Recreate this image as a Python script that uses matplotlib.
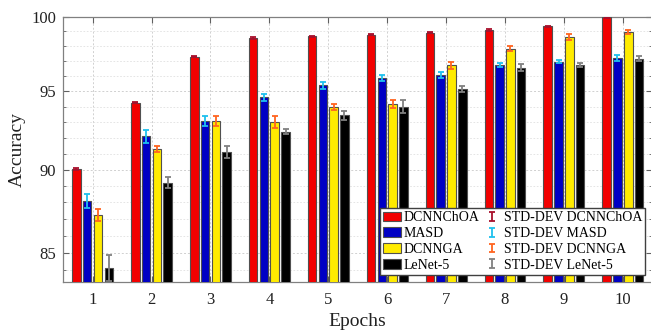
import numpy as np
import matplotlib
matplotlib.use("Agg")
from matplotlib import pyplot as plt
from matplotlib.ticker import FixedLocator, NullFormatter, FixedFormatter
from matplotlib.legend_handler import HandlerErrorbar
from matplotlib.container import ErrorbarContainer

plt.rcParams['font.family'] = ['Liberation Serif', 'DejaVu Serif']

epochs = [1, 2, 3, 4, 5, 6, 7, 8, 9, 10]
names = ["DCNNChOA", "MASD", "DCNNGA", "LeNet-5"]

dcnnchoa = [90.05, 94.25, 97.3, 98.55, 98.68, 98.78, 98.92, 99.1, 99.35, 99.96]
masd = [88.1, 92.1, 93.1, 94.6, 95.4, 95.9, 96.08, 96.74, 96.97, 97.2]
dcnnga = [87.25, 91.3, 93.1, 93.0, 93.98, 94.2, 96.72, 97.84, 98.63, 98.97]
lenet5 = [84.1, 89.2, 91.1, 92.4, 93.45, 94.0, 95.16, 96.56, 96.76, 97.17]

std_dcnnchoa = [0.04, 0.04, 0.04, 0.04, 0.04, 0.04, 0.04, 0.04, 0.04, 0.04]
std_masd = [0.43, 0.4, 0.32, 0.22, 0.22, 0.2, 0.19, 0.15, 0.13, 0.18]
std_dcnnga = [0.35, 0.2, 0.32, 0.38, 0.17, 0.26, 0.24, 0.15, 0.18, 0.14]
std_lenet5 = [0.75, 0.33, 0.38, 0.14, 0.3, 0.42, 0.21, 0.23, 0.13, 0.15]

bar_colors = ["#F20000", "#0000C4", "#FFEB00", "#000000"]
err_colors = ["#A8102C", "#1EC0EE", "#FF6420", "#808080"]

series = [dcnnchoa, masd, dcnnga, lenet5]
stds = [std_dcnnchoa, std_masd, std_dcnnga, std_lenet5]

fig = plt.figure(figsize=(6.51, 3.31), dpi=100)
ax = fig.add_axes([0.097, 0.148, 0.905, 0.801])
ax.set_yscale('log')

x = np.array(epochs, dtype=float)
step = 0.183
width = 0.145
base = 80
bars = []
errs = []
for i in range(4):
    xs = x + (i - 1.5) * step
    vals = np.array(series[i])
    b = ax.bar(xs, vals - base, bottom=base, width=width, color=bar_colors[i],
               edgecolor="#505050", linewidth=0.8, label=names[i], zorder=3)
    bars.append(b)
for i in range(4):
    xs = x + (i - 1.5) * step
    e = ax.errorbar(xs, series[i], yerr=stds[i], fmt='none', ecolor=err_colors[i],
                    elinewidth=1.3, capsize=2.2, capthick=1.3,
                    label="STD-DEV " + names[i], zorder=4)
    errs.append(e)

ax.set_xlim(0.5, 10.5)
ax.set_ylim(83.3, 100)
ax.set_xticks(epochs)
ax.set_xticklabels([str(e) for e in epochs])
ax.yaxis.set_major_locator(FixedLocator([85, 90, 95, 100]))
ax.yaxis.set_major_formatter(FixedFormatter(["85", "90", "95", "100"]))
ax.yaxis.set_minor_locator(FixedLocator([v for v in range(84, 100) if v % 5 != 0]))
ax.yaxis.set_minor_formatter(NullFormatter())

ax.grid(True, which='major', color="#d0d0d0", linestyle=(0, (2, 2)), linewidth=0.7, zorder=0)
ax.grid(True, which='minor', axis='y', color="#e0e0e0", linestyle=(0, (2, 2)), linewidth=0.6, zorder=0)
ax.set_axisbelow(True)

ax.tick_params(which='both', direction='in', top=True, right=True, colors="#606060",
               labelcolor="#222222", labelsize=12)
ax.tick_params(which='major', length=4, width=0.8)
ax.tick_params(which='minor', length=2.5, width=0.6)
ax.tick_params(axis='x', pad=7)
ax.tick_params(axis='y', pad=5)
for s in ax.spines.values():
    s.set_color("#808080")
    s.set_linewidth(0.9)

ax.set_xlabel("Epochs", fontsize=14, color="#222222", labelpad=4)
ax.set_ylabel("Accuracy", fontsize=14, color="#222222", labelpad=4)

ax.legend(handles=bars + errs, ncol=2, loc='lower right', fontsize=10,
          frameon=True, fancybox=False, edgecolor="#404040", framealpha=1,
          labelspacing=0.2, borderpad=0.25, handlelength=1.3, handletextpad=0.15,
          columnspacing=0.3, borderaxespad=0.5,
          handler_map={ErrorbarContainer: HandlerErrorbar(xerr_size=0.3, yerr_size=0.32)})

fig.savefig("out.png", dpi=100)
